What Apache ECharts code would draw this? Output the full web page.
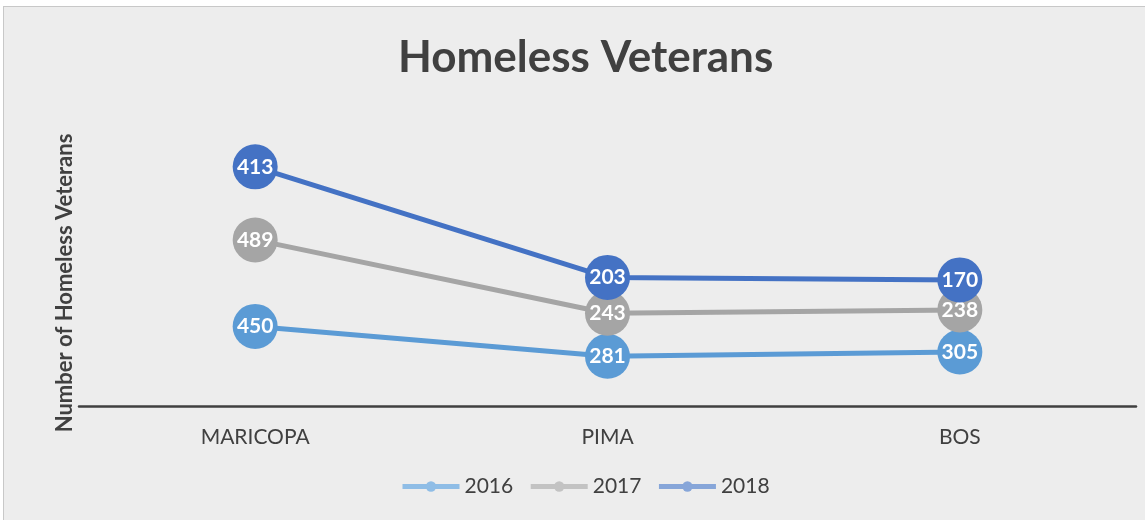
<!DOCTYPE html>
<html><head><meta charset="utf-8">
<script src="https://cdn.jsdelivr.net/npm/echarts@6/dist/echarts.min.js"></script>
<style>
html,body{margin:0;padding:0;background:#fff;}
#frame{position:absolute;left:3px;top:6px;width:1150px;height:520px;background:#ededed;border:1px solid #c8c8c8;box-sizing:border-box;}
#c{position:absolute;left:0;top:0;width:1145px;height:520px;}
</style></head>
<body>
<div id="frame"></div>
<div id="c"></div>
<script>
const categories = ['MARICOPA', 'PIMA', 'BOS'];
const years = ['2016', '2017', '2018'];
const v2016 = [450, 281, 305];
const v2017 = [489, 243, 238];
const v2018 = [413, 203, 170];
const colors = ['#5b9bd5', '#a5a5a5', '#4472c4'];
const legendColors = ['#8fbde6', '#c3c3c3', '#87a6d9'];
const seriesValues = [v2016, v2017, v2018];

const chart = echarts.init(document.getElementById('c'));
const FONT = 'Lato';
chart.setOption({
  backgroundColor: 'transparent',
  title: {
    text: 'Homeless Veterans', left: 393, top: 31,
    textStyle: {fontFamily: FONT, fontSize: 44, fontWeight: 'bold', color: '#404040'}
  },
  legend: {
    bottom: 18, left: 395, itemWidth: 57, itemHeight: 13, itemGap: 15,
    textStyle: {fontFamily: FONT, fontSize: 21, color: '#404040'},
    data: years.map((y, i) => ({name: y, itemStyle: {color: legendColors[i]}, lineStyle: {color: legendColors[i], width: 5}}))
  },
  graphic: [{
    type: 'text',
    x: 65, y: 283,
    rotation: Math.PI / 2,
    style: {text: 'Number of Homeless Veterans', fill: '#404040', font: 'bold 22px Lato', textAlign: 'center', textVerticalAlign: 'middle'}
  }],
  grid: {left: 79, right: 9, top: 123, bottom: 114},
  xAxis: {
    type: 'category', data: categories, boundaryGap: true,
    axisLine: {lineStyle: {color: '#404040', width: 2.5}},
    axisTick: {show: false},
    axisLabel: {fontFamily: FONT, fontSize: 21, color: '#404040', margin: 21}
  },
  yAxis: {
    type: 'value', min: 0, max: 1600, interval: 200,
    axisLine: {show: false}, axisTick: {show: false}, axisLabel: {show: false}, splitLine: {show: false}
  },
  series: years.map((y, i) => ({
    name: y, type: 'line', stack: 'total', data: seriesValues[i],
    symbol: 'circle', symbolSize: 45,
    lineStyle: {color: colors[i], width: 5},
    itemStyle: {color: colors[i]},
    label: {show: true, position: 'inside', color: '#fff', fontFamily: FONT, fontSize: 21, fontWeight: 'bold'},
    z: 2 + i
  })),
  animation: false
});
</script>
</body></html>
